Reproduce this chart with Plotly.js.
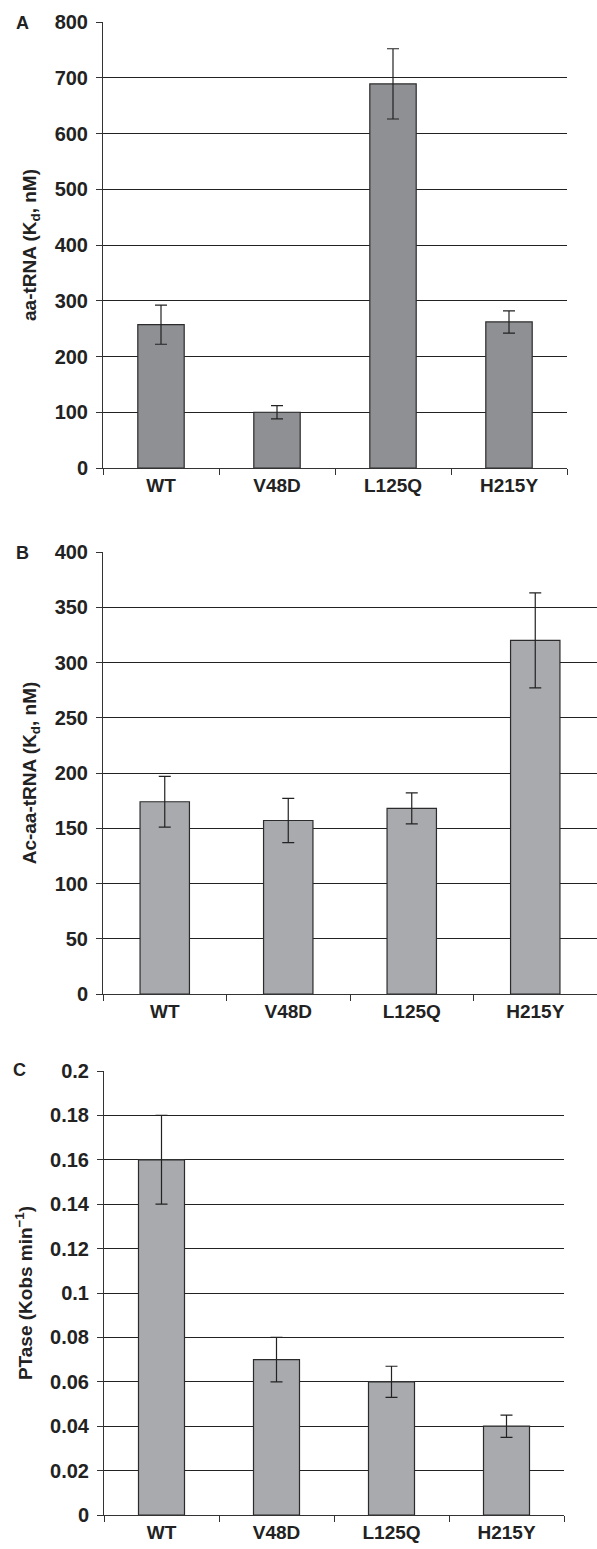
<!DOCTYPE html>
<html>
<head>
<meta charset="utf-8">
<script src="https://cdn.plot.ly/plotly-3.0.1.min.js"></script>
<style>html,body{margin:0;padding:0;background:#fff;}#chart{width:597px;height:1549px;}</style>
</head>
<body>
<div id="chart"></div>
<script>
// Data
const categories = ["WT", "V48D", "L125Q", "H215Y"];
const aaTRNA_Kd = [257, 100, 689, 262];
const aaTRNA_err = [35, 12, 63, 20];
const acTRNA_Kd = [174, 157, 168, 320];
const acTRNA_err = [23, 20, 14, 43];
const ptase_kobs = [0.16, 0.07, 0.06, 0.04];
const ptase_err = [0.02, 0.01, 0.007, 0.005];

const W = 597, H = 1549, L = 103;
const PW = W - L;
const FONT = "Liberation Sans, Arial, Helvetica, sans-serif";
const dx = v => (v - L) / PW;
const py = v => 1 - v / H;

function barTrace(y, err, color, xa, ya) {
  return {
    type: "bar", x: categories, y: y, xaxis: xa, yaxis: ya,
    marker: {color: color, line: {color: "#2b2b2b", width: 1.2}},
    width: 0.4,
    error_y: {type: "data", array: err, visible: true, color: "#222", thickness: 1.2, width: 6},
    hoverinfo: "none", showlegend: false
  };
}

const data = [
  barTrace(aaTRNA_Kd, aaTRNA_err, "#8f9094", "x", "y"),
  barTrace(acTRNA_Kd, acTRNA_err, "#a9aaae", "x2", "y2"),
  barTrace(ptase_kobs, ptase_err, "#a9aaae", "x3", "y3")
];

function xAxis(domain, anchor) {
  return {
    domain: domain, anchor: anchor, type: "category",
    tickson: "boundaries", ticks: "outside", ticklen: 6, tickwidth: 1, tickcolor: "#333",
    showgrid: false, showline: true, linecolor: "#333", linewidth: 1,
    tickfont: {family: FONT, size: 19, color: "#222", weight: "bold"},
    fixedrange: true
  };
}
function yAxis(domain, anchor, range, dtick, title) {
  return {
    domain: domain, anchor: anchor, range: range, dtick: dtick,
    ticks: "outside", ticklen: 6, tickwidth: 1, tickcolor: "#333",
    showline: true, linecolor: "#333", linewidth: 1,
    showgrid: true, gridcolor: "#222", gridwidth: 1, zeroline: false,
    tickfont: {family: FONT, size: 20, color: "#222", weight: "bold"},
    ticklabelstandoff: 4,
    title: {text: title, standoff: 12, font: {family: FONT, size: 19, color: "#222", weight: "bold"}},
    automargin: false,
    fixedrange: true
  };
}

function letter(text, xc, yc) {
  return {text: text, xref: "paper", yref: "paper", x: dx(xc), y: py(yc),
    xanchor: "center", yanchor: "middle", showarrow: false,
    font: {family: FONT, size: 18, color: "#222", weight: "bold"}};
}

const layout = {
  width: W, height: H,
  margin: {l: L, r: 0, t: 0, b: 0},
  paper_bgcolor: "#fff", plot_bgcolor: "#fff",
  bargap: 0.6,
  xaxis: xAxis([0, dx(567)], "y"),
  yaxis: yAxis([py(468), py(22)], "x", [0, 800], 100, "aa-tRNA (K<sub>d</sub>, nM)"),
  xaxis2: xAxis([0, 1], "y2"),
  yaxis2: yAxis([py(994), py(552)], "x2", [0, 400], 50, "Ac-aa-tRNA (K<sub>d</sub>, nM)"),
  xaxis3: xAxis([dx(104), dx(564)], "y3"),
  yaxis3: yAxis([py(1515), py(1071)], "x3", [0, 0.2], 0.02, "PTase (Kobs min<sup>\u22121</sup>)"),
  annotations: [
    letter("A", 22, 23),
    letter("B", 22, 553),
    letter("C", 19, 1070)
  ]
};

Plotly.newPlot("chart", data, layout, {displayModeBar: false, staticPlot: true});
</script>
</body>
</html>
